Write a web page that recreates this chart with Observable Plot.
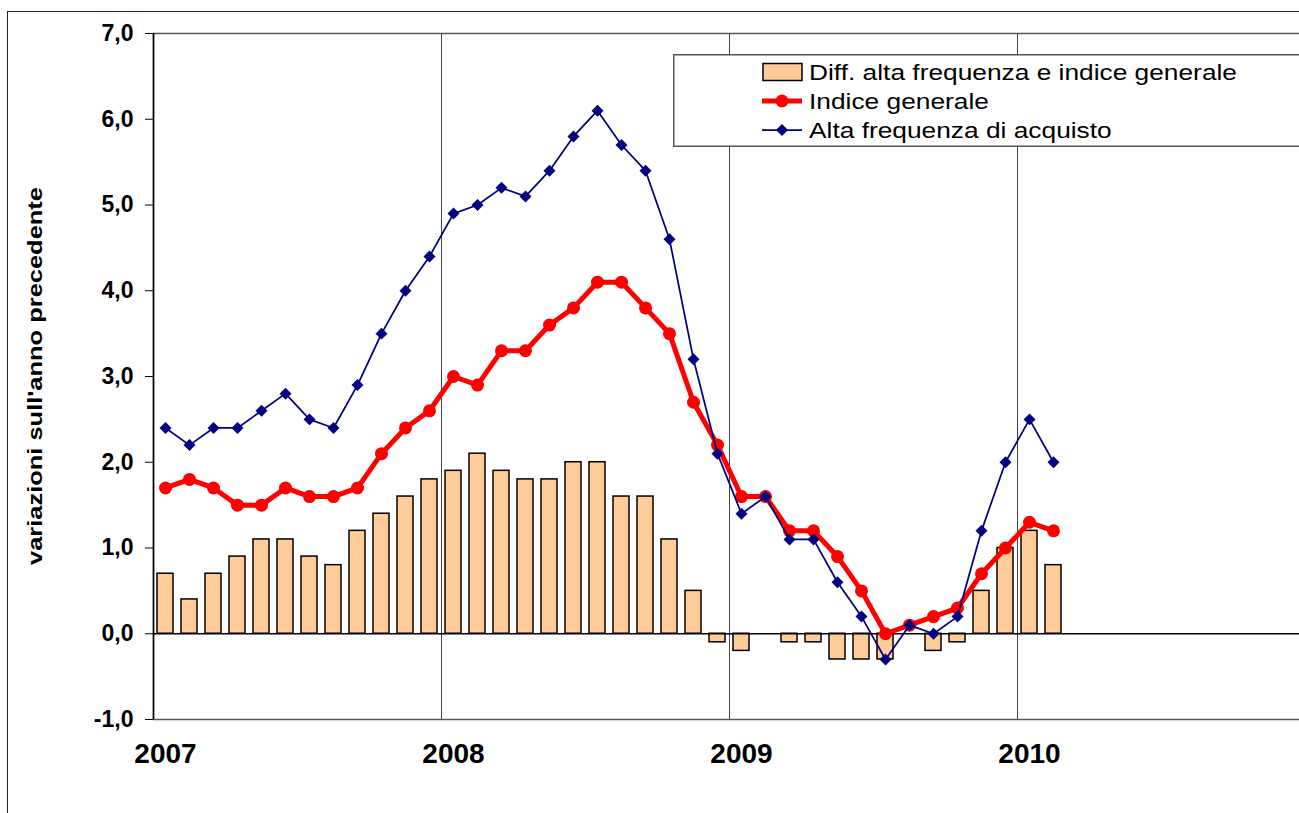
<!DOCTYPE html>
<html>
<head>
<meta charset="utf-8">
<script src="https://cdn.jsdelivr.net/npm/d3@7"></script>
<script src="https://cdn.jsdelivr.net/npm/@observablehq/plot@0.6"></script>
<style>
  html, body { margin: 0; padding: 0; background: #fff; overflow: hidden; }
  #wrap { position: relative; width: 1299px; height: 813px; overflow: hidden; font-family: "Liberation Sans", Arial, sans-serif; }
  #outer { position: absolute; left: 7px; top: 11px; width: 1400px; height: 900px; border: 1.5px solid #222; box-sizing: border-box; }
  #chart { position: absolute; left: 0; top: 0; }
  #legend { position: absolute; left: 673px; top: 54px; }
  g[aria-label="x-axis tick label"] text { font-size: 28px; font-weight: bold; }
  g[aria-label="y-axis tick label"] text { font-size: 23px; font-weight: bold; }
</style>
</head>
<body>
<div id="wrap">
  <div id="outer"></div>
  <div id="chart"></div>
  <div id="legend"></div>
</div>
<script>
// ---- Data ----
const years = [2007, 2008, 2009, 2010];
const monthNames = ["gen", "feb", "mar", "apr", "mag", "giu", "lug", "ago", "set", "ott", "nov", "dic"];
const categories = years.flatMap(y => monthNames.map(m => `${m} ${y}`));
const yearTicks = years.map(y => `gen ${y}`);
const yTicks = [-1, 0, 1, 2, 3, 4, 5, 6, 7];

const altaFrequenza = [
  2.4, 2.2, 2.4, 2.4, 2.6, 2.8, 2.5, 2.4, 2.9, 3.5, 4.0, 4.4,
  4.9, 5.0, 5.2, 5.1, 5.4, 5.8, 6.1, 5.7, 5.4, 4.6, 3.2, 2.1,
  1.4, 1.6, 1.1, 1.1, 0.6, 0.2, -0.3, 0.1, 0.0, 0.2, 1.2, 2.0,
  2.5, 2.0
];
const indiceGenerale = [
  1.7, 1.8, 1.7, 1.5, 1.5, 1.7, 1.6, 1.6, 1.7, 2.1, 2.4, 2.6,
  3.0, 2.9, 3.3, 3.3, 3.6, 3.8, 4.1, 4.1, 3.8, 3.5, 2.7, 2.2,
  1.6, 1.6, 1.2, 1.2, 0.9, 0.5, 0.0, 0.1, 0.2, 0.3, 0.7, 1.0,
  1.3, 1.2
];
const differenza = [
  0.7, 0.4, 0.7, 0.9, 1.1, 1.1, 0.9, 0.8, 1.2, 1.4, 1.6, 1.8,
  1.9, 2.1, 1.9, 1.8, 1.8, 2.0, 2.0, 1.6, 1.6, 1.1, 0.5, -0.1,
  -0.2, 0.0, -0.1, -0.1, -0.3, -0.3, -0.3, 0.0, -0.2, -0.1, 0.5, 1.0,
  1.2, 0.8
];
const legendLabels = ["Diff. alta frequenza e indice generale", "Indice generale", "Alta frequenza di acquisto"];
const yTitle = "variazioni sull'anno precedente";

const data = differenza.map((d, i) => ({
  month: categories[i], diff: d, indice: indiceGenerale[i], alta: altaFrequenza[i]
}));

// ---- Layout ----
const W = 1310, H = 813, ML = 153, MR = 5, MT = 33, MB = 94;
const step = (W - ML - MR) / categories.length;
const fmt = d => d.toFixed(1).replace(".", ",");
const colBar = "#FFCC99", colRed = "#FF0000", colBlue = "#000080";

const chart = Plot.plot({
  width: W, height: H,
  marginLeft: ML, marginRight: MR, marginTop: MT, marginBottom: MB,
  style: { background: "transparent", maxWidth: "none", overflow: "visible", fontFamily: "Liberation Sans, Arial, sans-serif", color: "black" },
  x: { type: "band", domain: categories, paddingInner: 1/3, paddingOuter: 1/6, axis: null },
  y: { domain: [-1, 7], axis: null },
  marks: [
    Plot.ruleX(yearTicks.slice(1), { dx: -step / 2, stroke: "#444", strokeWidth: 1 }),
    Plot.frame({ stroke: "#555", strokeWidth: 1.5 }),
    Plot.barY(data, { x: "month", y: "diff", fill: colBar, stroke: "black", strokeWidth: 1.5 }),
    Plot.ruleY([0], { stroke: "black", strokeWidth: 1.5 }),
    Plot.ruleX([categories[0]], { dx: -step / 2, stroke: "black", strokeWidth: 1.5 }),
    Plot.axisY({ ticks: yTicks, tickSize: 8, tickPadding: 12, tickFormat: fmt, label: null, fontSize: 23, fontWeight: "bold" }),
    Plot.axisX({ ticks: yearTicks, tickSize: 0, tickPadding: 24, tickFormat: d => d.slice(-4), label: null, fontSize: 28, fontWeight: "bold" }),
    Plot.line(data, { x: "month", y: "indice", stroke: colRed, strokeWidth: 5 }),
    Plot.dot(data, { x: "month", y: "indice", r: 6.5, fill: colRed }),
    Plot.line(data, { x: "month", y: "alta", stroke: colBlue, strokeWidth: 1.75 }),
    Plot.dot(data, { x: "month", y: "alta", symbol: "diamond2", r: 5.4, fill: colBlue })
  ]
});
document.getElementById("chart").appendChild(chart);

// Y axis title
d3.select(chart).append("text")
  .attr("transform", `translate(35,${(MT + H - MB) / 2}) rotate(-90)`)
  .attr("text-anchor", "middle")
  .attr("dy", "0.35em")
  .attr("font-size", 19.5)
  .attr("font-weight", "bold")
  .attr("fill", "black")
  .attr("textLength", 378)
  .attr("lengthAdjust", "spacingAndGlyphs")
  .text(yTitle);

// Legend
const lg = d3.select("#legend").append("svg").attr("width", 700).attr("height", 95)
  .style("font-family", "Liberation Sans, Arial, sans-serif");
lg.append("rect").attr("x", 0.75).attr("y", 0.75).attr("width", 690).attr("height", 91.5)
  .attr("fill", "white").attr("stroke", "#555").attr("stroke-width", 1.5);
const rowY = [18, 47, 76];
lg.append("rect").attr("x", 90).attr("y", rowY[0] - 8.5).attr("width", 39).attr("height", 17)
  .attr("fill", colBar).attr("stroke", "black").attr("stroke-width", 1.5);
lg.append("line").attr("x1", 89).attr("x2", 129).attr("y1", rowY[1]).attr("y2", rowY[1])
  .attr("stroke", colRed).attr("stroke-width", 5);
lg.append("circle").attr("cx", 109).attr("cy", rowY[1]).attr("r", 6.5).attr("fill", colRed);
lg.append("line").attr("x1", 89).attr("x2", 129).attr("y1", rowY[2]).attr("y2", rowY[2])
  .attr("stroke", colBlue).attr("stroke-width", 1.75);
lg.append("path").attr("transform", `translate(109,${rowY[2]})`)
  .attr("d", d3.symbol(d3.symbolDiamond2, Math.PI * 5.4 * 5.4)()).attr("fill", colBlue);
legendLabels.forEach((t, i) => {
  lg.append("text")
    .attr("transform", `translate(136,${rowY[i]}) scale(1.17,1)`)
    .attr("dy", "0.36em")
    .attr("font-size", 22.5)
    .attr("fill", "black")
    .text(t);
});
</script>
</body>
</html>
